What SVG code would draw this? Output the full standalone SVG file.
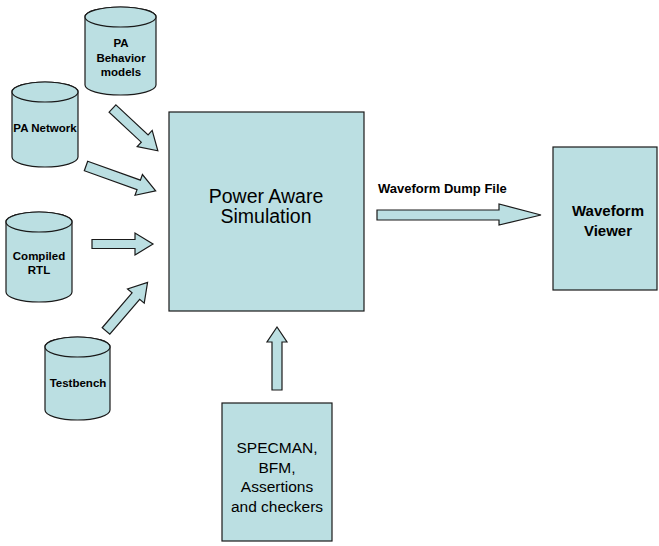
<svg xmlns="http://www.w3.org/2000/svg" width="659" height="546" viewBox="0 0 659 546">
<style>
.f{fill:#BBDFE2;stroke:#1a1a1a;stroke-width:1.2}
.b{font-family:"Liberation Sans",Arial,sans-serif;font-weight:bold;font-size:11.5px;text-anchor:middle;fill:#000}
.r{font-family:"Liberation Sans",Arial,sans-serif;font-size:19.5px;text-anchor:middle;fill:#000}
</style>
<rect width="659" height="546" fill="#fff"/>
<g id="pa-behavior">
<path class="f" d="M85,17 V85 A35.5,10 0 0 0 156,85 V17 A35.5,10 0 0 0 85,17 Z"/>
<ellipse class="f" cx="120.5" cy="17" rx="35.5" ry="10"/>
<text class="b" x="121" y="47">PA</text>
<text class="b" x="121" y="62">Behavior</text>
<text class="b" x="121" y="76">models</text>
</g>
<g id="pa-network">
<path class="f" d="M12,92 V157 A33,10 0 0 0 78,157 V92 A33,10 0 0 0 12,92 Z"/>
<ellipse class="f" cx="45" cy="92" rx="33" ry="10"/>
<text class="b" x="45" y="132">PA Network</text>
</g>
<g id="compiled-rtl">
<path class="f" d="M6,222 V292 A33,10 0 0 0 72,292 V222 A33,10 0 0 0 6,222 Z"/>
<ellipse class="f" cx="39" cy="222" rx="33" ry="10"/>
<text class="b" x="39" y="260">Compiled</text>
<text class="b" x="39" y="274">RTL</text>
</g>
<g id="testbench">
<path class="f" d="M45,347 V410 A32.5,10 0 0 0 110,410 V347 A32.5,10 0 0 0 45,347 Z"/>
<ellipse class="f" cx="77.5" cy="347" rx="32.5" ry="10"/>
<text class="b" x="78" y="387">Testbench</text>
</g>
<g id="power-aware-simulation">
<rect class="f" x="169" y="112" width="195" height="199"/>
<text class="r" x="266" y="203">Power Aware</text>
<text class="r" x="266" y="223">Simulation</text>
</g>
<g id="waveform-viewer">
<rect class="f" x="553" y="147" width="104" height="143"/>
<text class="b" x="608" y="216" style="font-size:15px">Waveform</text>
<text class="b" x="608" y="236" style="font-size:15px">Viewer</text>
</g>
<g id="specman">
<rect class="f" x="222" y="403" width="110" height="138"/>
<text class="r" x="277" y="453" style="font-size:15.5px">SPECMAN,</text>
<text class="r" x="277" y="473" style="font-size:15.5px">BFM,</text>
<text class="r" x="277" y="492" style="font-size:15.5px">Assertions</text>
<text class="r" x="277" y="512" style="font-size:15.5px">and checkers</text>
</g>
<g id="connectors">
<path class="f" transform="translate(112.5,108.5) rotate(43)" d="M0,-5 H44 V-11 L62,0 L44,11 V5 H0 Z"/>
<path class="f" transform="translate(86,166) rotate(19.7)" d="M0,-5 H56 V-11 L74,0 L56,11 V5 H0 Z"/>
<path class="f" transform="translate(92,244)" d="M0,-4.5 H43 V-11 L61,0 L43,11 V4.5 H0 Z"/>
<path class="f" transform="translate(106,331) rotate(-49.5)" d="M0,-5 H46 V-11 L64,0 L46,11 V5 H0 Z"/>
<path class="f" d="M377,210 H499 V204 L541,215 L499,225 V220 H377 Z"/>
<path class="f" d="M272,390 V342 H267 L277,327 L287,342 H282 V390 Z"/>
<text class="b" x="378" y="193" style="text-anchor:start;font-size:13px">Waveform Dump File</text>
</g>
</svg>
